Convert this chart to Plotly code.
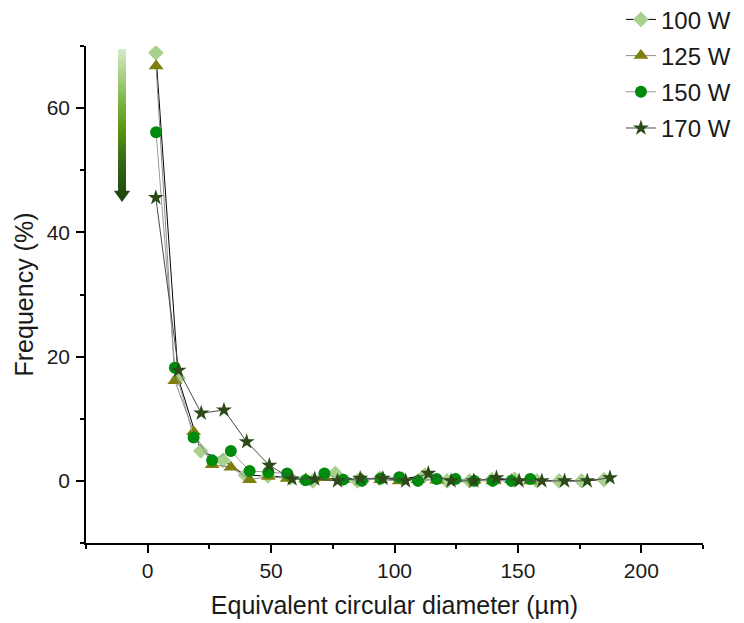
import plotly.graph_objects as go

# ---------------- data ----------------
series_names = ["100 W", "125 W", "150 W", "170 W"]

x_100 = [3.3, 12.4, 21.5, 30.5, 39.6, 48.7, 57.8, 66.9, 76.0, 85.0, 94.1, 103.2,
         112.3, 121.3, 130.4, 139.5, 148.6, 157.7, 166.7, 175.8, 184.9]
y_100 = [68.9, 16.5, 4.8, 3.3, 0.9, 0.8, 0.5, 0.0, 1.2, 0.0, 0.4, 0.3,
         0.9, 0.0, 0.0, 0.2, 0.3, 0.0, 0.0, 0.0, 0.2]

x_125 = [3.4, 11.0, 18.6, 26.1, 33.7, 41.3, 48.9, 56.5, 64.0, 71.6, 79.2, 86.8,
         94.4, 101.9, 109.5, 117.1, 124.7, 132.3, 139.8, 147.4, 155.0]
y_125 = [66.8, 16.1, 7.9, 2.6, 2.2, 0.2, 0.7, 0.4, 0.3, 0.5, 0.2, 0.3,
         0.2, 0.0, 0.2, 0.1, 0.3, 0.1, 0.0, 0.2, 0.0]

x_150 = [3.4, 11.0, 18.6, 26.1, 33.7, 41.3, 48.9, 56.5, 64.0, 71.6, 79.2, 86.8,
         94.4, 101.9, 109.5, 117.1, 124.7, 132.3, 139.8, 147.4, 155.0]
y_150 = [56.1, 18.2, 7.0, 3.3, 4.8, 1.6, 1.4, 1.2, 0.1, 1.2, 0.2, 0.0,
         0.4, 0.6, 0.0, 0.3, 0.3, 0.0, 0.0, 0.0, 0.3]

x_170 = [3.3, 12.5, 21.7, 30.9, 40.1, 49.3, 58.5, 67.7, 76.9, 86.1, 95.3, 104.5,
         113.7, 122.9, 132.1, 141.3, 150.5, 159.7, 168.9, 178.1, 187.3]
y_170 = [45.6, 17.8, 10.9, 11.4, 6.3, 2.5, 0.3, 0.3, 0.0, 0.4, 0.4, 0.0,
         1.2, 0.0, 0.0, 0.5, 0.0, 0.0, 0.0, 0.0, 0.5]

x_tick_vals = [0, 50, 100, 150, 200]
y_tick_vals = [0, 20, 40, 60]

# ---------------- styles ----------------
FONT = "Liberation Sans, Arial, sans-serif"
marker_colors = ["#A9D18E", "#7F7F0F", "#008A0E", "#2B4A17"]
line_colors = ["#000000", "#8C8C8C", "#9A9A9A", "#4A4A4A"]
symbols = ["diamond", "triangle-up", "circle", "star"]
sizes = [12, 13, 12, 12]

xs = [x_100, x_125, x_150, x_170]
ys = [y_100, y_125, y_150, y_170]

fig = go.Figure()
for i, name in enumerate(series_names):
    fig.add_trace(go.Scatter(
        x=xs[i], y=ys[i], name=name, mode="lines+markers",
        legendgroup=name,
        line=dict(color=line_colors[i], width=1),
        marker=dict(symbol=symbols[i], size=sizes[i], color=marker_colors[i],
                    line=dict(width=0)),
    ))

# gradient arrow (decoration)
bar_x0, bar_x1 = -12.0, -8.8
bar_top, bar_bot = 69.5, 46.5
head_x0, head_x1, head_tip = -13.7, -7.1, 44.9
stops = [(0.0, (214, 236, 200)), (0.3, (140, 190, 90)), (0.55, (95, 150, 20)),
         (0.8, (52, 102, 20)), (1.0, (32, 78, 16))]


def interp(t):
    for (t0, c0), (t1, c1) in zip(stops[:-1], stops[1:]):
        if t0 <= t <= t1:
            f = (t - t0) / (t1 - t0)
            return "rgb(%d,%d,%d)" % tuple(round(a + (b - a) * f) for a, b in zip(c0, c1))
    return "rgb(%d,%d,%d)" % stops[-1][1]


n = 50
step = (bar_top - bar_bot) / n
for k in range(n):
    y_hi = bar_top - step * k
    y_lo = max(bar_bot, y_hi - step * 2.2)
    fig.add_shape(type="rect", xref="x", yref="y", x0=bar_x0, x1=bar_x1,
                  y0=y_lo, y1=y_hi, line=dict(width=0), fillcolor=interp((k + 0.5) / n),
                  layer="above")
fig.add_shape(type="path", xref="x", yref="y",
              path=f"M {head_x0},{bar_bot + 0.2} L {head_x1},{bar_bot + 0.2} L {(head_x0 + head_x1) / 2},{head_tip} Z",
              fillcolor="rgb(28,72,14)", line=dict(width=0), layer="above")

axis_common = dict(
    showline=True, linecolor="black", linewidth=1.5,
    ticks="outside", ticklen=8, tickwidth=1.5, tickcolor="black",
    showgrid=False, zeroline=False, mirror=False,
    tickfont=dict(family=FONT, size=21, color="#1a1a1a"),
    automargin=False,
)

fig.update_xaxes(
    range=[-25, 225], tickvals=x_tick_vals,
    minor=dict(dtick=25, tick0=0, ticks="outside", ticklen=4, tickwidth=1.5, tickcolor="black"),
    title=dict(text="Equivalent circular diameter (µm)", font=dict(family=FONT, size=25, color="#1a1a1a"),
               standoff=16),
    ticklabelstandoff=0,
    **axis_common,
)
fig.update_yaxes(
    range=[-10, 70], tickvals=y_tick_vals,
    minor=dict(dtick=10, tick0=0, ticks="outside", ticklen=4, tickwidth=1.5, tickcolor="black"),
    title=dict(text="Frequency (%)", font=dict(family=FONT, size=25, color="#1a1a1a"),
               standoff=6),
    ticklabelstandoff=2,
    **axis_common,
)

# page body has an 8px margin: size figure so the plot area lands at x 86-703, y 46-543
fig.update_layout(
    width=736, height=615,
    margin=dict(l=78, r=41, t=38, b=80, autoexpand=False),
    plot_bgcolor="white", paper_bgcolor="white",
    legend=dict(x=0.867, y=1.098, xanchor="left", yanchor="top",
                bgcolor="rgba(0,0,0,0)", font=dict(family=FONT, size=24, color="#1a1a1a"),
                tracegroupgap=2),
    showlegend=True,
)

fig.write_html("out.html")
